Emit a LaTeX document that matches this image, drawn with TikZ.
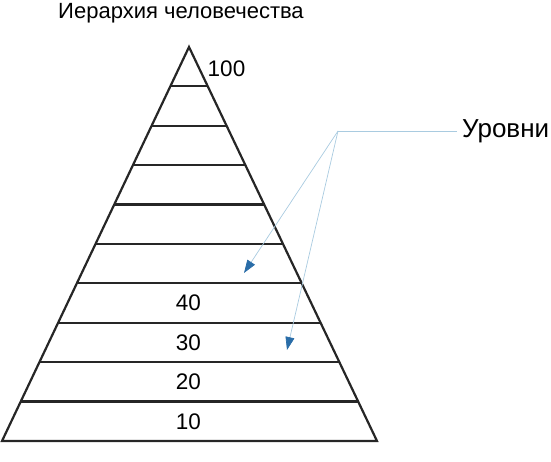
\documentclass[tikz,border=0pt]{standalone}
\usepackage{fontspec}
\setmainfont{Liberation Sans}
\usetikzlibrary{arrows.meta,calc}

\definecolor{leaderblue}{HTML}{A9CBE0}
\definecolor{tipblue}{HTML}{2A6DA8}

\begin{document}
\begin{tikzpicture}[x=1pt,y=-1pt,
	level/.style={line width=2.2pt,black!85},
	leader/.style={line width=0.7pt,leaderblue},
	pointer/.style={leader,-{Triangle[length=13pt,width=9pt,color=tipblue]}}]
	\useasboundingbox (0,0) rectangle (551,462);
	\coordinate (apex) at (189,47);
	\coordinate (bl) at (2,441);
	\coordinate (br) at (377,441);
	\draw[level] (apex) -- (bl) -- (br) -- cycle;
	\foreach \i in {1,...,9}
		\draw[level] ($(apex)!\i/10!(bl)$) -- ($(apex)!\i/10!(br)$);
	\node[anchor=base] (title) at (181,18.3) {\fontsize{22}{26}\selectfont Иерархия человечества};
	\node (top) at (226.5,68.5) {\fontsize{22.5}{27}\selectfont 100};
	\foreach \v [count=\k] in {10,20,30,40}
		\node (n\v) at (188.5,{441-39.4*\k+19.7}) {\fontsize{22.5}{27}\selectfont \v};
	\node[anchor=base west,inner sep=5pt] (levels) at (457,137.7) {\fontsize{26}{31}\selectfont Уровни};
	\coordinate (fork) at (338,131);
	\coordinate (tipA) at (244,273);
	\coordinate (tipB) at (287,350);
	\draw[leader] (levels.west |- fork) -- (fork);
	\draw[pointer] (fork) -- (tipA);
	\draw[pointer] (fork) -- (tipB);
\end{tikzpicture}
\end{document}
